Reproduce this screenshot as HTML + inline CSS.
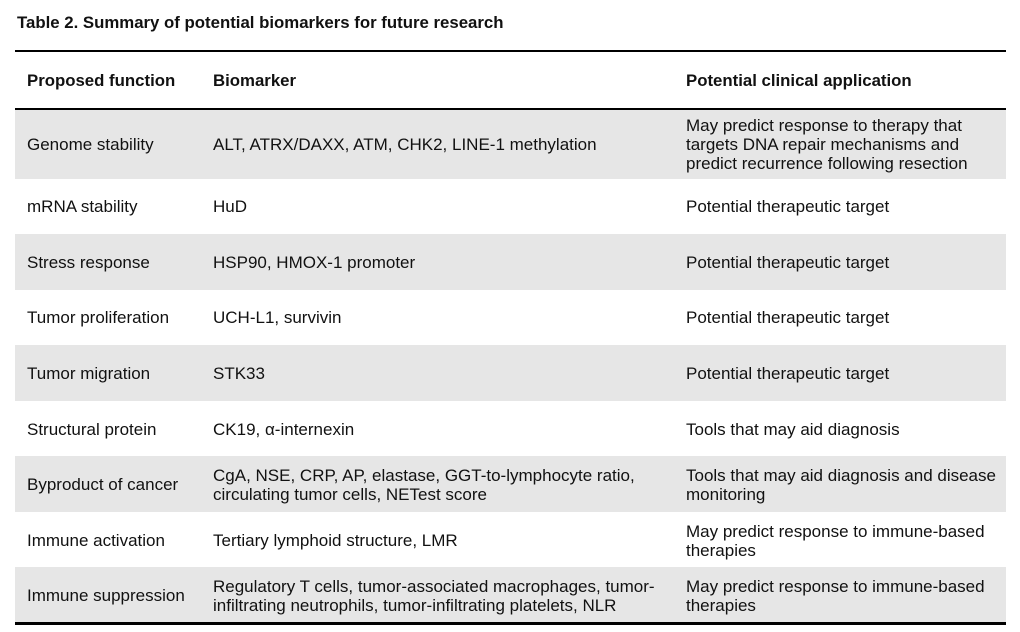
<!DOCTYPE html>
<html>
<head>
<meta charset="utf-8">
<style>
html,body{margin:0;padding:0;background:#fff;}
body{width:1020px;height:632px;position:relative;overflow:hidden;font-family:"Liberation Sans",Arial,sans-serif;color:#111;font-size:17px;}
.t{position:absolute;line-height:19px;white-space:nowrap;}
.b{font-weight:bold;font-size:16.8px;}
.g{position:absolute;left:15px;width:991px;background:#e6e6e6;}
.l{position:absolute;left:15px;width:991px;background:#000;}
</style>
</head>
<body>
<div class="t b" style="left:17px;top:13px;">Table 2. Summary of potential biomarkers for future research</div>

<div class="l" style="top:50px;height:2px;"></div>
<div class="t b" style="left:27px;top:71px;">Proposed function</div>
<div class="t b" style="left:213px;top:71px;">Biomarker</div>
<div class="t b" style="left:686px;top:71px;">Potential clinical application</div>
<div class="l" style="top:108px;height:2px;"></div>

<div class="g" style="top:110px;height:69px;"></div>
<div class="g" style="top:234px;height:56px;"></div>
<div class="g" style="top:345px;height:56px;"></div>
<div class="g" style="top:456px;height:56px;"></div>
<div class="g" style="top:567px;height:55px;"></div>
<div class="l" style="top:622px;height:3px;"></div>

<div class="t" style="left:27px;top:135px;">Genome stability</div>
<div class="t" style="left:213px;top:135px;">ALT, ATRX/DAXX, ATM, CHK2, LINE-1 methylation</div>
<div class="t" style="left:686px;top:116px;">May predict response to therapy that<br>targets DNA repair mechanisms and<br>predict recurrence following resection</div>

<div class="t" style="left:27px;top:197px;">mRNA stability</div>
<div class="t" style="left:213px;top:197px;">HuD</div>
<div class="t" style="left:686px;top:197px;">Potential therapeutic target</div>

<div class="t" style="left:27px;top:253px;">Stress response</div>
<div class="t" style="left:213px;top:253px;">HSP90, HMOX-1 promoter</div>
<div class="t" style="left:686px;top:253px;">Potential therapeutic target</div>

<div class="t" style="left:27px;top:308px;">Tumor proliferation</div>
<div class="t" style="left:213px;top:308px;">UCH-L1, survivin</div>
<div class="t" style="left:686px;top:308px;">Potential therapeutic target</div>

<div class="t" style="left:27px;top:364px;">Tumor migration</div>
<div class="t" style="left:213px;top:364px;">STK33</div>
<div class="t" style="left:686px;top:364px;">Potential therapeutic target</div>

<div class="t" style="left:27px;top:420px;">Structural protein</div>
<div class="t" style="left:213px;top:420px;">CK19, α-internexin</div>
<div class="t" style="left:686px;top:420px;">Tools that may aid diagnosis</div>

<div class="t" style="left:27px;top:475px;">Byproduct of cancer</div>
<div class="t" style="left:213px;top:466px;">CgA, NSE, CRP, AP, elastase, GGT-to-lymphocyte ratio,<br>circulating tumor cells, NETest score</div>
<div class="t" style="left:686px;top:466px;">Tools that may aid diagnosis and disease<br>monitoring</div>

<div class="t" style="left:27px;top:531px;">Immune activation</div>
<div class="t" style="left:213px;top:531px;">Tertiary lymphoid structure, LMR</div>
<div class="t" style="left:686px;top:522px;">May predict response to immune-based<br>therapies</div>

<div class="t" style="left:27px;top:586px;">Immune suppression</div>
<div class="t" style="left:213px;top:577px;">Regulatory T cells, tumor-associated macrophages, tumor-<br>infiltrating neutrophils, tumor-infiltrating platelets, NLR</div>
<div class="t" style="left:686px;top:577px;">May predict response to immune-based<br>therapies</div>
</body>
</html>
